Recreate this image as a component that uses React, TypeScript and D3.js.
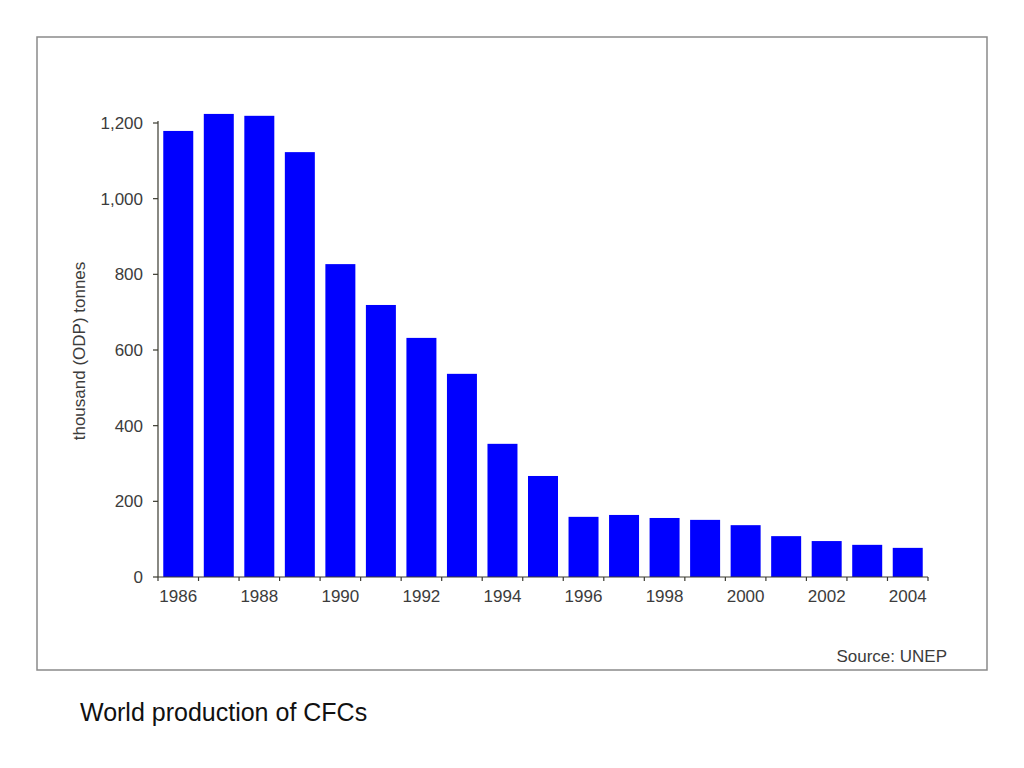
import React from "react";
import * as d3 from "d3";

const years = [1986, 1987, 1988, 1989, 1990, 1991, 1992, 1993, 1994, 1995, 1996, 1997, 1998, 1999, 2000, 2001, 2002, 2003, 2004];
const production = [1179, 1224, 1219, 1123, 827, 719, 632, 537, 352, 267, 159, 164, 156, 151, 137, 108, 95, 85, 77];
const yTicks = [0, 200, 400, 600, 800, 1000, 1200];
const xLabelYears = [1986, 1988, 1990, 1992, 1994, 1996, 1998, 2000, 2002, 2004];

const W = 1024;
const H = 768;
const left = 158;
const right = 928;
const top = 123;
const bottom = 577;

export default function App() {
  const x = d3.scaleBand<number>().domain(years).range([left, right]).paddingInner(0.26).paddingOuter(0.13);
  const y = d3.scaleLinear().domain([0, 1200]).range([bottom, top]);
  const step = x.step();
  const edges = d3.range(years.length + 1).map((i) => left + i * step);
  const fmt = d3.format(",");
  const axisColor = "#3a3a30";
  const font = "'Liberation Sans', Arial, sans-serif";

  return (
    <svg width={W} height={H} style={{ position: "absolute", left: 0, top: 0, background: "#fff" }} fontFamily={font}>
      <rect x={37} y={37} width={950} height={633} fill="#fff" stroke="#8a8a8a" strokeWidth={1.5} />
      {years.map((yr, i) => (
        <rect key={yr} x={x(yr)} y={y(production[i])} width={x.bandwidth()} height={y(0) - y(production[i])} fill="#0000ff" />
      ))}
      <line x1={left} x2={left} y1={y(1200) - 2} y2={bottom} stroke={axisColor} strokeWidth={1.2} />
      <line x1={left} x2={right} y1={bottom} y2={bottom} stroke={axisColor} strokeWidth={1.2} />
      {yTicks.map((t) => (
        <g key={t}>
          <line x1={left - 5} x2={left} y1={y(t)} y2={y(t)} stroke={axisColor} strokeWidth={1.2} />
          <text x={left - 15} y={y(t)} dy="0.36em" textAnchor="end" fontSize={17} fill="#3c3c3c">
            {fmt(t)}
          </text>
        </g>
      ))}
      {edges.map((e, i) => (
        <line key={i} x1={e} x2={e} y1={bottom} y2={bottom + 4} stroke={axisColor} strokeWidth={1.2} />
      ))}
      {xLabelYears.map((yr) => (
        <text key={yr} x={(x(yr) as number) + x.bandwidth() / 2} y={602} textAnchor="middle" fontSize={17} fill="#3c3c3c">
          {yr}
        </text>
      ))}
      <text transform={`translate(85,${(top + bottom) / 2 + 1}) rotate(-90)`} textAnchor="middle" fontSize={17} fill="#3c3c3c">
        thousand (ODP) tonnes
      </text>
      <text x={947} y={662} textAnchor="end" fontSize={17} fill="#3c3c3c">
        Source: UNEP
      </text>
      <text x={80} y={721} fontSize={25} fill="#111">
        World production of CFCs
      </text>
    </svg>
  );
}
